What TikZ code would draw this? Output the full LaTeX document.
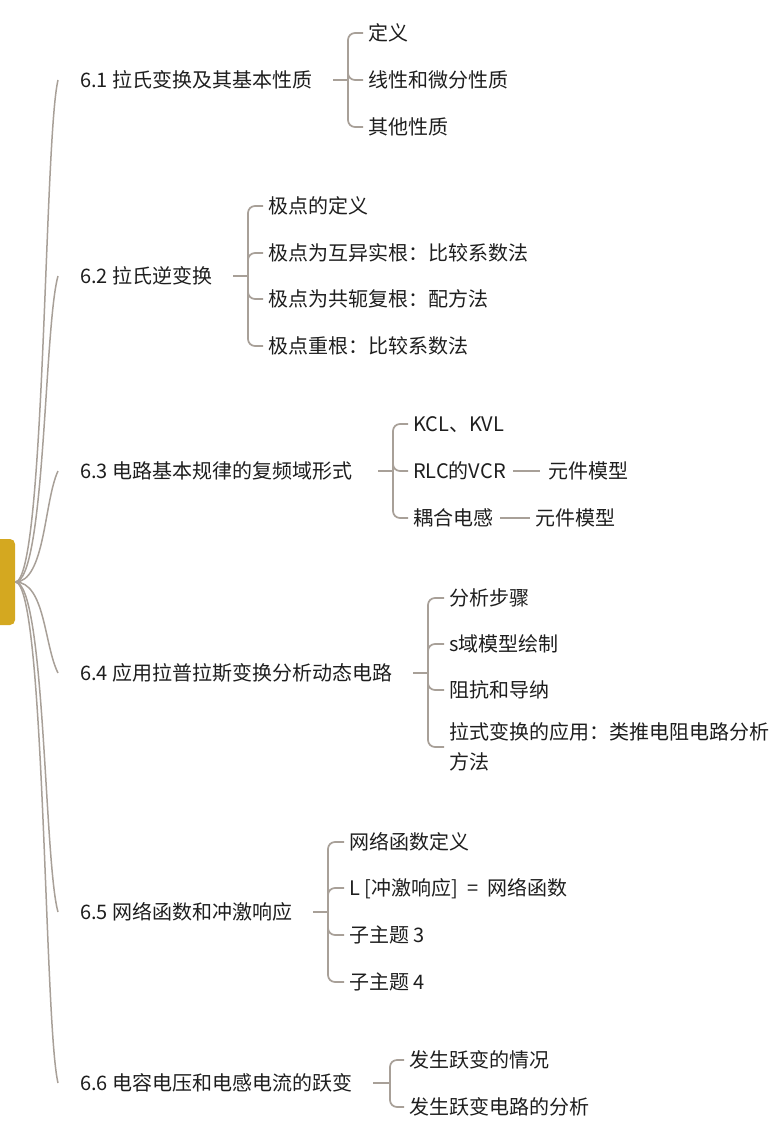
\documentclass[tikz,border=0pt]{standalone}
\usepackage{fontspec}
\setmainfont{Noto Sans CJK SC}
\usetikzlibrary{calc}
\definecolor{linec}{RGB}{168,160,152}
\definecolor{gold}{RGB}{212,168,32}
\definecolor{txt}{RGB}{30,30,30}
\begin{document}
\begin{tikzpicture}[x=1pt,y=-1pt,
  conn/.style={draw=linec,line width=1.7pt,rounded corners=7pt},
  curve/.style={draw=linec,line width=1.5pt},
  txtnode/.style={anchor=west,inner sep=0pt,text=txt,text height=17.5pt,text depth=2.3pt,font=\fontsize{20}{30}\selectfont},
  rootbox/.style={fill=gold,rounded corners=5pt,minimum width=25pt,minimum height=86pt,inner sep=0pt}]
\useasboundingbox (0,0) rectangle (777,1132);

% root
\node[rootbox] (root) at (2.5,582) {};

% branches
\node[txtnode] (p1) at (80,80) {6.1 拉氏变换及其基本性质};
\node[txtnode] (p2) at (80,276) {6.2 拉氏逆变换};
\node[txtnode] (p3) at (80,471) {6.3 电路基本规律的复频域形式};
\node[txtnode] (p4) at (80,673) {6.4 应用拉普拉斯变换分析动态电路};
\node[txtnode] (p5) at (80,912) {6.5 网络函数和冲激响应};
\node[txtnode] (p6) at (80,1083) {6.6 电容电压和电感电流的跃变};

% children 6.1
\node[txtnode] (c11) at (368,33) {定义};
\node[txtnode] (c12) at (368,80) {线性和微分性质};
\node[txtnode] (c13) at (368,127) {其他性质};
% children 6.2
\node[txtnode] (c21) at (268,206) {极点的定义};
\node[txtnode] (c22) at (268,253) {极点为互异实根：比较系数法};
\node[txtnode] (c23) at (268,299) {极点为共轭复根：配方法};
\node[txtnode] (c24) at (268,346) {极点重根：比较系数法};
% children 6.3
\node[txtnode] (c31) at (413,424) {KCL、KVL};
\node[txtnode] (c32) at (413,471) {RLC的VCR};
\node[txtnode] (c33) at (413,518) {耦合电感};
\node[txtnode] (d32) at (548,471) {元件模型};
\node[txtnode] (d33) at (535,518) {元件模型};
% children 6.4
\node[txtnode] (c41) at (449,598) {分析步骤};
\node[txtnode] (c42) at (449,644) {s域模型绘制};
\node[txtnode] (c43) at (449,690) {阻抗和导纳};
\node[txtnode,align=left,text height={},text depth={}] (c44) at (449,747) {拉式变换的应用：类推电阻电路分析\\方法};
% children 6.5
\node[txtnode] (c51) at (349,842) {网络函数定义};
\node[txtnode] (c52) at (349,888) {L [冲激响应]\ \ =\ \ 网络函数};
\node[txtnode] (c53) at (349,935) {子主题 3};
\node[txtnode] (c54) at (349,982) {子主题 4};
% children 6.6
\node[txtnode] (c61) at (409,1060) {发生跃变的情况};
\node[txtnode] (c62) at (409,1107) {发生跃变电路的分析};

% root curves
\draw[curve] (root.east) .. controls +(30,0) and +(-14,60) .. ($(p1.west)+(-22,0)$);
\draw[curve] (root.east) .. controls +(30,0) and +(-14,50) .. ($(p2.west)+(-22,0)$);
\draw[curve] (root.east) .. controls +(30,0) and +(-14,30) .. ($(p3.west)+(-22,0)$);
\draw[curve] (root.east) .. controls +(30,0) and +(-14,-28) .. ($(p4.west)+(-22,0)$);
\draw[curve] (root.east) .. controls +(30,0) and +(-14,-50) .. ($(p5.west)+(-22,0)$);
\draw[curve] (root.east) .. controls +(30,0) and +(-14,-60) .. ($(p6.west)+(-22,0)$);

% brackets
\coordinate (b1) at ($(c11.west |- p1.west)+(-20,0)$);
\coordinate (b2) at ($(c21.west |- p2.west)+(-20,0)$);
\coordinate (b3) at ($(c31.west |- p3.west)+(-20,0)$);
\coordinate (b4) at ($(c41.west |- p4.west)+(-21,0)$);
\coordinate (b5) at ($(c51.west |- p5.west)+(-21,0)$);
\coordinate (b6) at ($(c61.west |- p6.west)+(-19,0)$);

\draw[conn] ($(b1)+(-15,0)$) -- (b1);
\foreach \c in {c11,c12,c13} \draw[conn] (b1) |- ($(\c.west)+(-5,0)$);
\draw[conn] ($(b2)+(-15,0)$) -- (b2);
\foreach \c in {c21,c22,c23,c24} \draw[conn] (b2) |- ($(\c.west)+(-5,0)$);
\draw[conn] ($(b3)+(-15,0)$) -- (b3);
\foreach \c in {c31,c32,c33} \draw[conn] (b3) |- ($(\c.west)+(-5,0)$);
\draw[conn] ($(b4)+(-15,0)$) -- (b4);
\foreach \c in {c41,c42,c43,c44} \draw[conn] (b4) |- ($(\c.west)+(-5,0)$);
\draw[conn] ($(b5)+(-15,0)$) -- (b5);
\foreach \c in {c51,c52,c53,c54} \draw[conn] (b5) |- ($(\c.west)+(-5,0)$);
\draw[conn] ($(b6)+(-17,0)$) -- (b6);
\foreach \c in {c61,c62} \draw[conn] (b6) |- ($(\c.west)+(-5,0)$);

% third level
\draw[conn] ($(c32.east)+(7,0)$) -- ($(d32.west)+(-8,0)$);
\draw[conn] ($(c33.east)+(7,0)$) -- ($(d33.west)+(-5,0)$);
\end{tikzpicture}
\end{document}
